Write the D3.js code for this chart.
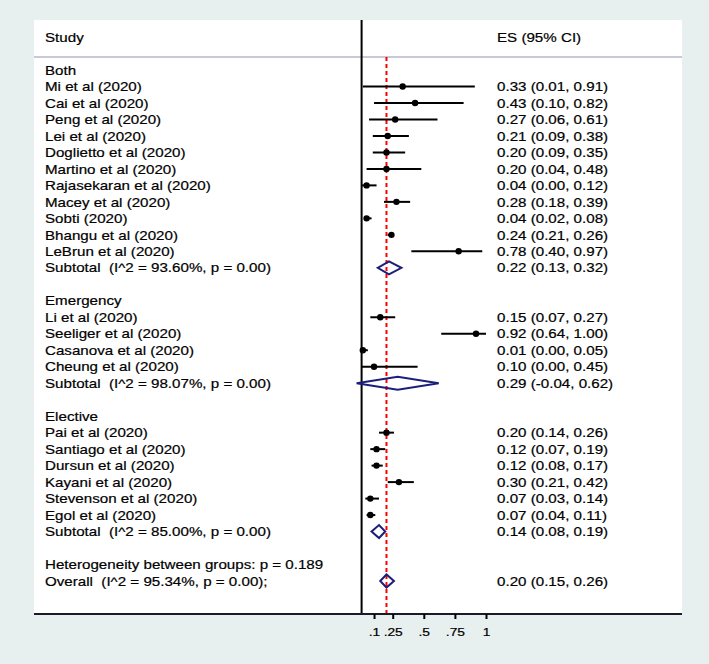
<!DOCTYPE html>
<html><head><meta charset="utf-8">
<script src="https://cdn.jsdelivr.net/npm/d3@7"></script>
<style>body{margin:0;background:#e8f0ef;} svg{display:block;font-family:"Liberation Sans",Arial,sans-serif;} text{white-space:pre;}</style>
</head><body>
<script>
// ---- data ----
const groups = ["Both", "Emergency", "Elective"];
const studies = [
  "Mi et al (2020)","Cai et al (2020)","Peng et al (2020)","Lei et al (2020)","Doglietto et al (2020)",
  "Martino et al (2020)","Rajasekaran et al (2020)","Macey et al (2020)","Sobti (2020)","Bhangu et al (2020)",
  "LeBrun et al (2020)",
  "Li et al (2020)","Seeliger et al (2020)","Casanova et al (2020)","Cheung et al (2020)",
  "Pai et al (2020)","Santiago et al (2020)","Dursun et al (2020)","Kayani et al (2020)","Stevenson et al (2020)","Egol et al (2020)"
];
const studyGroup = [0,0,0,0,0,0,0,0,0,0,0, 1,1,1,1, 2,2,2,2,2,2];
const es =  [0.33,0.43,0.27,0.21,0.20,0.20,0.04,0.28,0.04,0.24,0.78, 0.15,0.92,0.01,0.10, 0.20,0.12,0.12,0.30,0.07,0.07];
const lo =  [0.01,0.10,0.06,0.09,0.09,0.04,0.00,0.18,0.02,0.21,0.40, 0.07,0.64,0.00,0.00, 0.14,0.07,0.08,0.21,0.03,0.04];
const hi =  [0.91,0.82,0.61,0.38,0.35,0.48,0.12,0.39,0.08,0.26,0.97, 0.27,1.00,0.05,0.45, 0.26,0.19,0.17,0.42,0.14,0.11];
const subLabels = ["Subtotal  (I^2 = 93.60%, p = 0.00)","Subtotal  (I^2 = 98.07%, p = 0.00)","Subtotal  (I^2 = 85.00%, p = 0.00)"];
const subEs = [0.22, 0.29, 0.14];
const subLo = [0.13, -0.04, 0.08];
const subHi = [0.32, 0.62, 0.19];
const heterogeneityLabel = "Heterogeneity between groups: p = 0.189";
const overallLabel = "Overall  (I^2 = 95.34%, p = 0.00);";
const overall = {es: 0.20, lo: 0.15, hi: 0.26};
const tickValues = [0.1, 0.25, 0.5, 0.75, 1];
const tickLabels = [".1", ".25", ".5", ".75", "1"];

const fmt = d3.format(".2f");
const fmtCI = v => (v < 0 ? "-" : "") + fmt(Math.abs(v));
const ciText = (e,l,h) => `${fmtCI(e)} (${fmtCI(l)}, ${fmtCI(h)})`;

// ---- build rows ----
const rows = [];
groups.forEach((g, gi) => {
  rows.push({type: "header", label: g});
  studies.forEach((s, i) => {
    if (studyGroup[i] === gi) rows.push({type: "study", label: s, es: es[i], lo: lo[i], hi: hi[i]});
  });
  rows.push({type: "sub", label: subLabels[gi], es: subEs[gi], lo: subLo[gi], hi: subHi[gi]});
  rows.push({type: "blank"});
});
rows.push({type: "text", label: heterogeneityLabel});
rows.push({type: "sub", label: overallLabel, es: overall.es, lo: overall.lo, hi: overall.hi});

const W = 709, H = 664;
const SX = 1.165;
const svg = d3.select("body").append("svg").attr("width", W).attr("height", H);
const panel = {x0: 34, x1: 682, y0: 20, y1: 614};

svg.append("rect").attr("x", 0).attr("y", 0).attr("width", W).attr("height", H).attr("fill", "#e8f0ef");
svg.append("rect").attr("x", panel.x0).attr("y", panel.y0).attr("width", panel.x1 - panel.x0).attr("height", panel.y1 - panel.y0).attr("fill", "#fff");

const x = d3.scaleLinear().domain([0, 1]).range([361.6, 486]);
const y = d3.scaleLinear().domain([0, rows.length - 1]).range([70, 581]);

function label(sel, tx, ty, str, size) {
  return sel.append("text")
    .attr("transform", `translate(${tx},${ty}) scale(${SX},1)`)
    .attr("dy", "0.36em").attr("font-size", size || 13).attr("fill", "#000")
    .attr("stroke", "#000").attr("stroke-width", 0.2)
    .text(str);
}

// header
label(svg, 45, 37, "Study");
label(svg, 497, 37, "ES (95% CI)");
svg.append("line").attr("x1", panel.x0).attr("x2", panel.x1).attr("y1", 57).attr("y2", 57)
  .attr("stroke", "#c9c9d9").attr("stroke-width", 2);

// null line
svg.append("line").attr("x1", x(0)).attr("x2", x(0)).attr("y1", panel.y0).attr("y2", panel.y1)
  .attr("stroke", "#000").attr("stroke-width", 2);

// overall dashed line
svg.append("line").attr("x1", x(overall.es)).attr("x2", x(overall.es)).attr("y1", 57).attr("y2", panel.y1)
  .attr("stroke", "#ff0000").attr("stroke-width", 2).attr("stroke-dasharray", "4,3");

// rows
const g = svg.append("g");
rows.forEach((r, i) => {
  const yy = y(i);
  if (r.type === "blank") return;
  label(g, 45, yy, r.label);
  if (r.type === "study") {
    g.append("line").attr("x1", x(r.lo)).attr("x2", x(r.hi)).attr("y1", yy).attr("y2", yy)
      .attr("stroke", "#000").attr("stroke-width", 2);
    g.append("circle").attr("cx", x(r.es)).attr("cy", yy).attr("r", 3.2).attr("fill", "#000");
    label(g, 497, yy, ciText(r.es, r.lo, r.hi));
  } else if (r.type === "sub") {
    const h = 6.5;
    const pts = [[x(r.lo), yy], [x(r.es), yy - h], [x(r.hi), yy], [x(r.es), yy + h]];
    g.append("path").attr("d", d3.line()(pts) + "Z").attr("fill", "none")
      .attr("stroke", "#1c1f7a").attr("stroke-width", 2).attr("stroke-linejoin", "miter");
    label(g, 497, yy, ciText(r.es, r.lo, r.hi));
  }
});

// axis
svg.append("line").attr("x1", panel.x0).attr("x2", panel.x1).attr("y1", panel.y1).attr("y2", panel.y1)
  .attr("stroke", "#1a1a2a").attr("stroke-width", 2);
const axis = d3.axisBottom(x).tickValues(tickValues).tickFormat((d, i) => tickLabels[i]).tickSize(5).tickPadding(6);
const ax = svg.append("g").attr("transform", `translate(0,${panel.y1})`).call(axis);
ax.select(".domain").remove();
ax.selectAll(".tick line").attr("stroke", "#000").attr("stroke-width", 2);
ax.selectAll(".tick text").attr("font-size", 11.5).attr("fill", "#000")
  .attr("stroke", "#000").attr("stroke-width", 0.2)
  .attr("font-family", "Liberation Sans, Arial, sans-serif")
  .attr("y", 18).attr("dy", "0.36em")
  .attr("transform", "scale(1.2,1)");
</script>
</body></html>
